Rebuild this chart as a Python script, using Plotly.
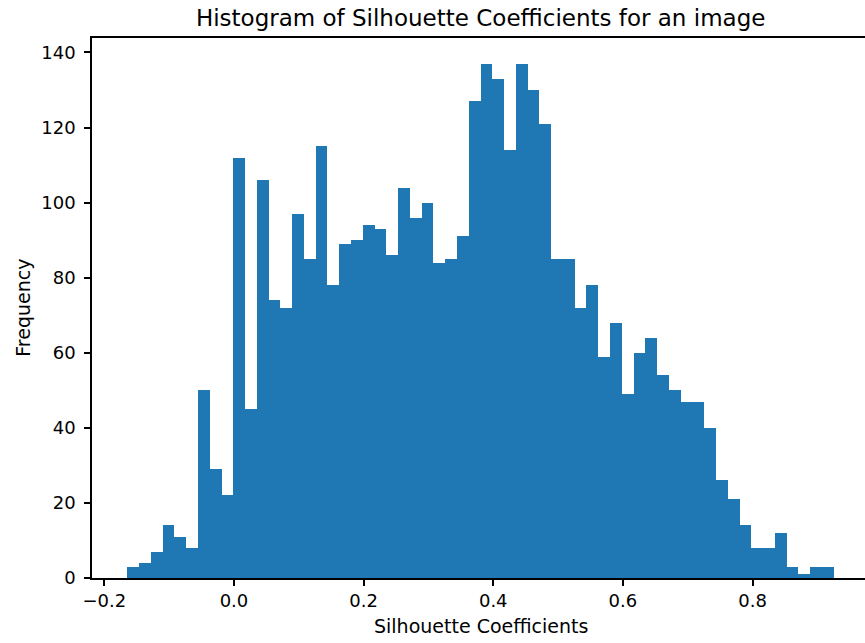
import numpy as np
import plotly.graph_objects as go

# Histogram data (60 equal-width bins)
counts = [3, 4, 7, 14, 11, 8, 50, 29, 22, 112,
          45, 106, 74, 72, 97, 85, 115, 78, 89, 90,
          94, 93, 86, 104, 96, 100, 84, 85, 91, 127,
          137, 133, 114, 137, 130, 121, 85, 85, 72, 78,
          59, 68, 49, 60, 64, 54, 50, 47, 47, 40,
          26, 21, 14, 8, 8, 12, 3, 1, 3, 3]
coef_min = -0.1645
coef_max = 0.9252
n_bins = 60
x_ticks = [-0.2, 0.0, 0.2, 0.4, 0.6, 0.8]
y_ticks = [0, 20, 40, 60, 80, 100, 120, 140]

edges = np.linspace(coef_min, coef_max, n_bins + 1)
centers = (edges[:-1] + edges[1:]) / 2
bw = edges[1] - edges[0]

W, H = 865, 643
L, T, B = 92.3, 37.5, 65
full_right = 869.0  # matplotlib axes right edge lies just beyond the canvas
span = coef_max - coef_min
xlo = coef_min - 0.05 * span
xhi_full = coef_max + 0.05 * span
xhi = xlo + (W - L) / (full_right - L) * (xhi_full - xlo)
ytop = max(counts) * 1.05

FONT = "DejaVu Sans"
TICK = 18
LAB = 19
fig = go.Figure(go.Bar(x=centers, y=counts, width=bw,
                       marker=dict(color="#1f77b4", line=dict(width=0))))

fig.update_layout(
    width=W, height=H,
    margin=dict(l=L, r=0, t=T, b=B, pad=0),
    paper_bgcolor="white", plot_bgcolor="white",
    bargap=0, showlegend=False,
    font=dict(family=FONT, size=TICK, color="#000"),
    title=dict(text="Histogram of Silhouette Coefficients for an image",
               x=(L + full_right) / 2 / W, xanchor="center", xref="container",
               y=1 - 18 / H, yanchor="middle", yref="container",
               font=dict(family=FONT, size=23, color="#000")),
    xaxis=dict(range=[xlo, xhi], tickvals=x_ticks,
               ticktext=[("\u2212" if v < 0 else "") + f"{abs(v):.1f}" for v in x_ticks],
               showline=True, linecolor="black", linewidth=1.5, mirror=True,
               ticks="outside", ticklen=6, tickwidth=1.5, tickcolor="black",
               showgrid=False, zeroline=False,
               tickfont=dict(family=FONT, size=TICK, color="#000")),
    yaxis=dict(range=[0, ytop], tickvals=y_ticks,
               showline=True, linecolor="black", linewidth=1.5, mirror=False,
               ticks="outside", ticklen=6, tickwidth=1.5, tickcolor="black",
               ticklabelstandoff=5,
               showgrid=False, zeroline=False,
               tickfont=dict(family=FONT, size=TICK, color="#000")),
    annotations=[
        dict(text="Silhouette Coefficients", xref="paper", yref="paper",
             x=((L + full_right) / 2 - L) / (W - L), y=-(626 - (H - B)) / (H - T - B),
             xanchor="center", yanchor="middle", showarrow=False,
             font=dict(family=FONT, size=LAB, color="#000")),
        dict(text="Frequency", xref="paper", yref="paper",
             x=-(L - 23) / (W - L), y=0.5, textangle=-90,
             xanchor="center", yanchor="middle", showarrow=False,
             font=dict(family=FONT, size=LAB, color="#000")),
    ],
)

fig.write_html("out.html")
